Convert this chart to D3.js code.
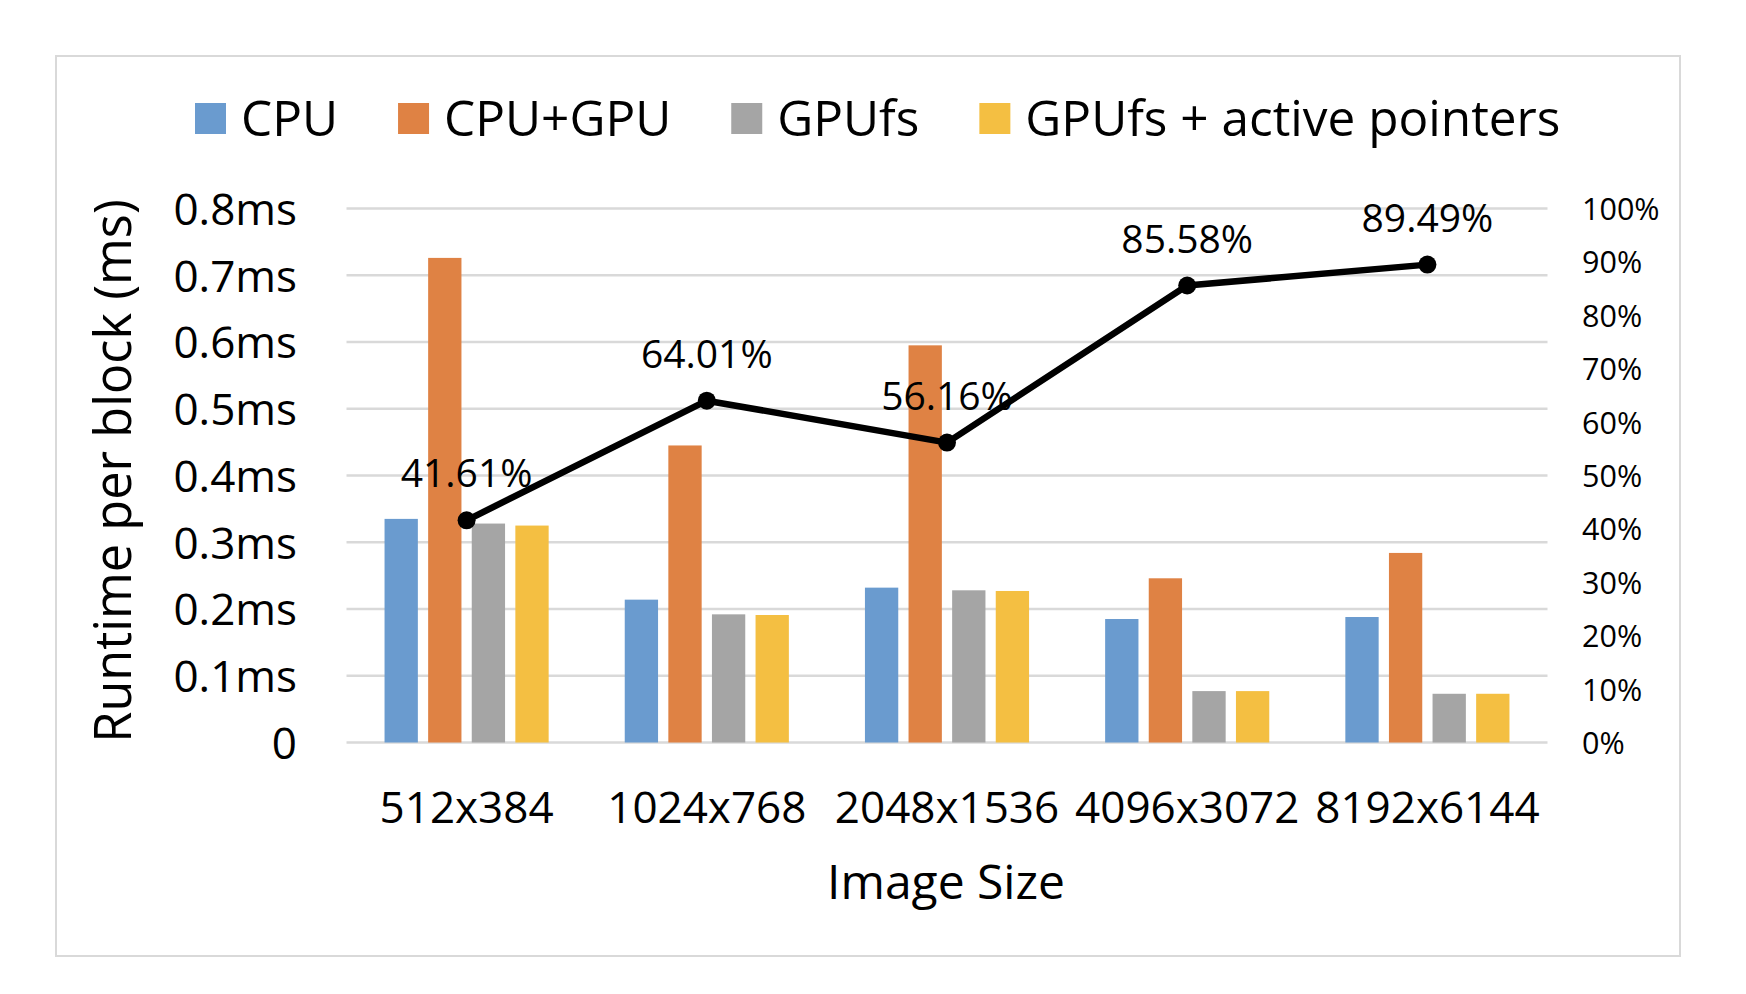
<!DOCTYPE html>
<html>
<head>
<meta charset="utf-8">
<script src="https://cdn.jsdelivr.net/npm/d3@7"></script>
<style>
  html, body { margin: 0; padding: 0; background: #fff; }
  svg text { font-family: "Open Sans", sans-serif; fill: #000; }
</style>
</head>
<body>
<svg id="chart" width="1746" height="994"></svg>
<script>
const categories = ["512x384", "1024x768", "2048x1536", "4096x3072", "8192x6144"];
const seriesNames = ["CPU", "CPU+GPU", "GPUfs", "GPUfs + active pointers"];
const cpu       = [0.335, 0.214, 0.232, 0.185, 0.188];
const cpuGpu    = [0.726, 0.445, 0.595, 0.246, 0.284];
const gpufs     = [0.328, 0.192, 0.228, 0.077, 0.073];
const gpufsAP   = [0.325, 0.191, 0.227, 0.077, 0.073];
const percent   = [41.61, 64.01, 56.16, 85.58, 89.49];
const leftTicks = [0, 0.1, 0.2, 0.3, 0.4, 0.5, 0.6, 0.7, 0.8];
const leftTickLabels = ["0", "0.1ms", "0.2ms", "0.3ms", "0.4ms", "0.5ms", "0.6ms", "0.7ms", "0.8ms"];
const rightTicks = [0, 10, 20, 30, 40, 50, 60, 70, 80, 90, 100];
const colors = ["#6a9bcf", "#df8244", "#a5a5a5", "#f4bf42"];

const seriesValues = [cpu, cpuGpu, gpufs, gpufsAP];

const svg = d3.select("#chart");

// frame
svg.append("rect")
  .attr("x", 56).attr("y", 56).attr("width", 1624).attr("height", 900)
  .attr("fill", "#fff").attr("stroke", "#d9d9d9").attr("stroke-width", 2);

const plot = { left: 346.5, right: 1547.5, top: 208.5, bottom: 742.5 };

const x0 = d3.scaleBand().domain(categories).range([plot.left, plot.right]).padding(0);
const x1 = d3.scaleBand().domain(seriesNames).range([0, x0.bandwidth()])
  .paddingInner(0.236).paddingOuter(0.8725);
const y = d3.scaleLinear().domain([0, 0.8]).range([plot.bottom, plot.top]);
const y2 = d3.scaleLinear().domain([0, 100]).range([plot.bottom, plot.top]);

// gridlines
svg.append("g").selectAll("line").data(leftTicks).join("line")
  .attr("x1", plot.left).attr("x2", plot.right)
  .attr("y1", d => y(d)).attr("y2", d => y(d))
  .attr("stroke", "#d9d9d9").attr("stroke-width", 2.6);

// left axis
const leftAxis = d3.axisLeft(y).tickValues(leftTicks)
  .tickFormat((d, i) => leftTickLabels[i]).tickSize(0).tickPadding(0);
const gL = svg.append("g").attr("transform", "translate(297,0)").call(leftAxis);
gL.select(".domain").remove();
gL.selectAll("text").attr("font-family", "Open Sans").attr("font-size", 44)
  .attr("dy", "0.36em").attr("fill", "#000");

// right axis
const rightAxis = d3.axisRight(y2).tickValues(rightTicks)
  .tickFormat(d => d + "%").tickSize(0).tickPadding(0);
const gR = svg.append("g").attr("transform", "translate(1582,0)").call(rightAxis);
gR.select(".domain").remove();
gR.selectAll("text").attr("font-family", "Open Sans").attr("font-size", 30.5)
  .attr("dy", "0.36em").attr("fill", "#000");

// x axis
const xAxis = d3.axisBottom(x0).tickSize(0).tickPadding(0);
const gX = svg.append("g").attr("transform", "translate(0,823)").call(xAxis);
gX.select(".domain").remove();
gX.selectAll("text").attr("font-family", "Open Sans").attr("font-size", 44)
  .attr("dy", 0).attr("fill", "#000");

// bars
const groups = svg.append("g").selectAll("g").data(categories).join("g")
  .attr("transform", d => `translate(${x0(d)},0)`);
groups.selectAll("rect")
  .data((c, ci) => seriesNames.map((s, si) => ({ s, si, v: seriesValues[si][ci] })))
  .join("rect")
  .attr("x", d => x1(d.s))
  .attr("width", x1.bandwidth())
  .attr("y", d => y(d.v))
  .attr("height", d => y(0) - y(d.v))
  .attr("fill", d => colors[d.si]);

// line
const cx = c => x0(c) + x0.bandwidth() / 2;
const line = d3.line().x((d, i) => cx(categories[i])).y(d => y2(d));
svg.append("path").datum(percent)
  .attr("d", line).attr("fill", "none")
  .attr("stroke", "#000").attr("stroke-width", 6.5).attr("stroke-linejoin", "round");
svg.append("g").selectAll("circle").data(percent).join("circle")
  .attr("cx", (d, i) => cx(categories[i])).attr("cy", d => y2(d)).attr("r", 9)
  .attr("fill", "#000");
svg.append("g").selectAll("text").data(percent).join("text")
  .attr("x", (d, i) => cx(categories[i])).attr("y", d => y2(d) - 33)
  .attr("text-anchor", "middle").attr("font-size", 39)
  .text(d => d.toFixed(2) + "%");

// axis titles
svg.append("text").attr("x", 946).attr("y", 899).attr("text-anchor", "middle")
  .attr("font-size", 48).text("Image Size");
svg.append("text").attr("transform", "translate(131,471) rotate(-90)")
  .attr("text-anchor", "middle").attr("font-size", 50.5).text("Runtime per block (ms)");

// legend
const legend = svg.append("g");
let lx = 195;
seriesNames.forEach((name, i) => {
  legend.append("rect").attr("x", lx).attr("y", 103).attr("width", 31).attr("height", 31)
    .attr("fill", colors[i]);
  const t = legend.append("text").attr("x", lx + 46).attr("y", 136)
    .attr("font-size", 49.5).text(name);
  lx += 46 + t.node().getComputedTextLength() + 60;
});
</script>
</body>
</html>
